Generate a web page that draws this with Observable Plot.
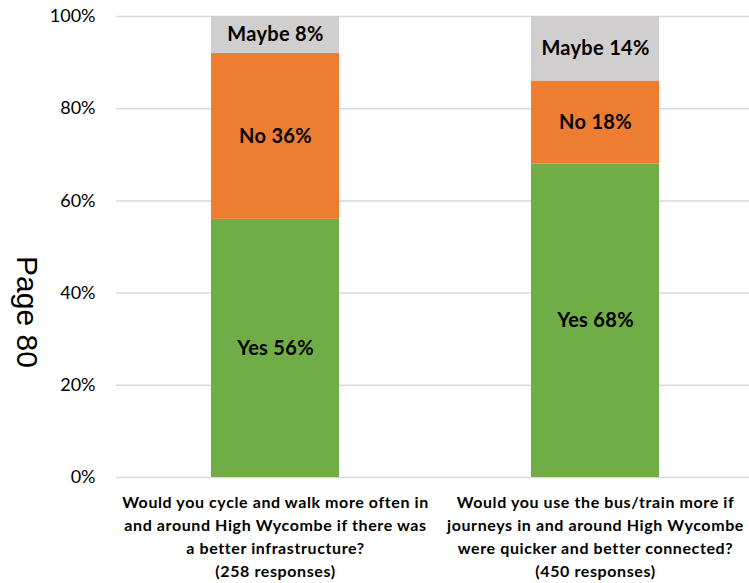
<!DOCTYPE html>
<html>
<head>
<meta charset="utf-8">
<script src="https://cdn.jsdelivr.net/npm/d3@7"></script>
<script src="https://cdn.jsdelivr.net/npm/@observablehq/plot@0.6"></script>
<style>
  html, body { margin: 0; padding: 0; background: #fff; }
  #chart svg { display: block; }
  #chart g[aria-label="x-axis tick label"] { letter-spacing: 0.6px; }
  #chart g.bar-labels { letter-spacing: 0.3px; }
</style>
</head>
<body>
<div id="chart"></div>
<script>
// Survey questions (x categories)
const questions = [
  "Would you cycle and walk more often in\nand around High Wycombe if there was\na better infrastructure?\n(258 responses)",
  "Would you use the bus/train more if\njourneys in and around High Wycombe\nwere quicker and better connected?\n(450 responses)"
];
// Answer categories, bottom to top
const answers = ["Yes", "No", "Maybe"];
// Percentages per answer, one per question
const yesValues = [56, 68];
const noValues = [36, 18];
const maybeValues = [8, 14];
const answerColors = ["#70AD47", "#ED7D31", "#D0CECE"];
const yTicks = [0, 20, 40, 60, 80, 100];
const sideNote = "Page 80";

const seriesValues = [yesValues, noValues, maybeValues];
const rows = [];
answers.forEach((answer, i) => {
  questions.forEach((q, j) => {
    rows.push({question: q, answer, value: seriesValues[i][j]});
  });
});

const chart = Plot.plot({
  width: 749,
  height: 583,
  marginLeft: 116,
  marginRight: 0,
  marginTop: 16,
  marginBottom: 106,
  style: {fontFamily: "Lato, sans-serif", background: "#fff"},
  x: {domain: questions, range: [115, 755], paddingInner: 0.6, paddingOuter: 0.3, label: null},
  y: {domain: [0, 100], label: null},
  color: {domain: answers, range: answerColors},
  marks: [
    Plot.ruleY(yTicks, {stroke: "#D9D9D9", strokeWidth: 1.5}),
    Plot.barY(rows, {x: "question", y: "value", fill: "answer", z: "answer"}),
    Plot.text(rows, Plot.stackY({
      x: "question", y: "value", z: "answer",
      text: d => `${d.answer} ${d.value}%`,
      fill: "#000", fontWeight: "bold", fontSize: 20, className: "bar-labels"
    })),
    Plot.axisY({
      ticks: yTicks, tickFormat: d => d + "%", tickSize: 0, tickPadding: 21,
      fontSize: 18, fill: "#000", label: null
    }),
    Plot.axisX({
      tickSize: 0, tickPadding: 14, lineHeight: 1.44, fontSize: 16,
      fontWeight: "bold", fill: "#000", label: null, textOverflow: null
    }),
    Plot.text([sideNote], {
      frameAnchor: "left", textAnchor: "middle", dx: -90, dy: 65, rotate: 90,
      fontFamily: "Liberation Sans, Arial, sans-serif", fontSize: 30, fill: "#000"
    })
  ]
});

document.getElementById("chart").append(chart);
</script>
</body>
</html>
